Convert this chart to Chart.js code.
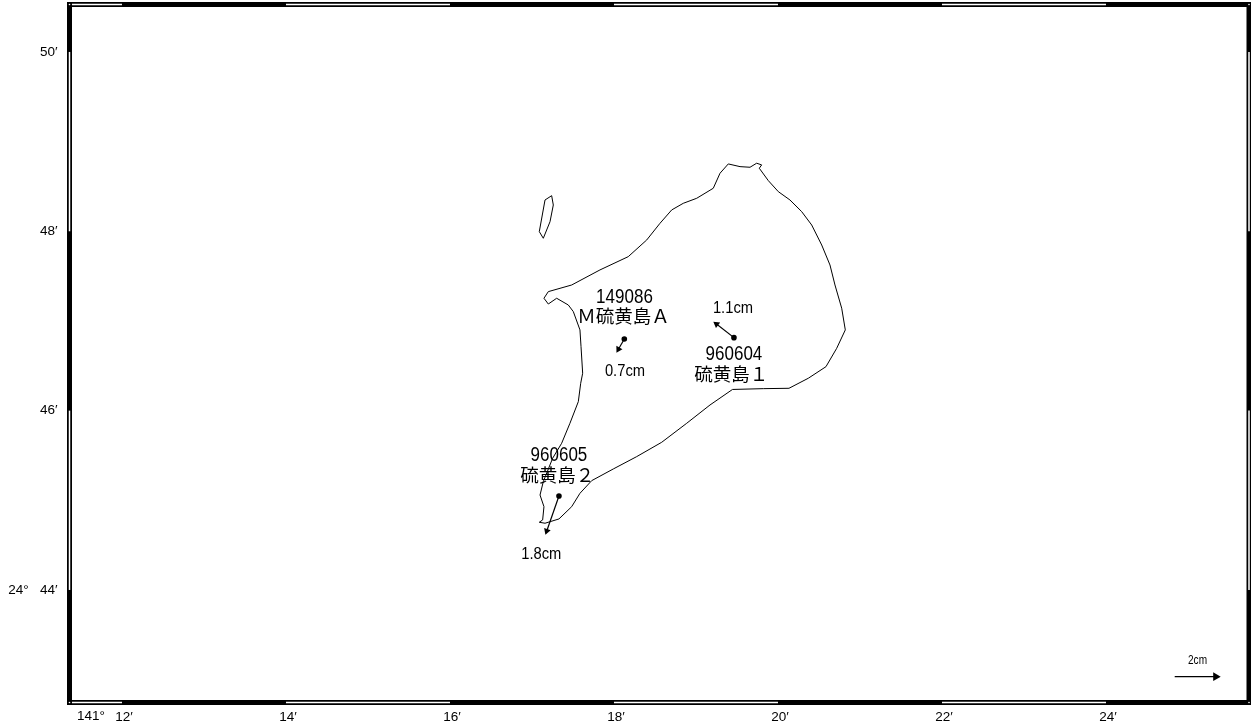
<!DOCTYPE html>
<html lang="ja">
<head>
  <meta charset="UTF-8" />
  <title>硫黄島 地殻変動</title>
  <script src="https://cdn.jsdelivr.net/npm/chart.js"></script>
  <style>
    html, body { margin: 0; padding: 0; background: #fff; overflow: hidden; }
    canvas { display: block; }
  </style>
</head>
<body>
  <canvas id="mapa" width="1251" height="728"></canvas>
  <script>
    // all positions in arc minutes: lon = 141deg + x, lat = 24deg + y
    const coastLon = [19.394,19.537,19.659,19.740,19.801,19.772,19.882,20.004,20.146,20.289,20.411,20.533,20.634,20.695,20.777,20.821,20.716,20.585,20.370,20.134,19.821,19.445,19.171,18.887,18.582,18.277,17.991,17.728,17.585,17.484,17.329,17.159,17.089,17.130,17.146,17.098,17.138,17.252,17.362,17.463,17.565,17.594,17.618,17.598,17.585,17.504,17.443,17.301,17.199,17.146,17.199,17.484,17.829,18.174,18.399,18.561,18.704,18.845,19.009,19.211,19.293,19.394];
    const coastLat = [48.751,48.721,48.714,48.759,48.740,48.703,48.565,48.442,48.349,48.219,48.070,47.847,47.624,47.401,47.142,46.900,46.695,46.490,46.361,46.249,46.245,46.236,46.063,45.859,45.647,45.487,45.349,45.219,45.078,44.929,44.792,44.744,44.755,44.781,44.929,45.059,45.208,45.469,45.636,45.859,46.100,46.305,46.417,46.713,46.900,47.104,47.178,47.253,47.189,47.253,47.327,47.401,47.569,47.717,47.903,48.089,48.238,48.312,48.368,48.480,48.647,48.751];
    const isletLon = [17.240,17.260,17.220,17.138,17.089,17.159,17.240];
    const isletLat = [48.397,48.293,48.107,47.922,47.996,48.349,48.397];

    const stationLon = [18.126,19.463,17.329];
    const stationLat = [46.799,46.814,45.048];
    const arrowLon = [18.054,19.250,17.180];
    const arrowLat = [46.684,46.965,44.658];
    const arrowTurn = [209.7,-52.3,199.1];

    const scaleLon = [24.838,25.338];
    const scaleLat = [43.033,43.033];

    const lonTicks = [12,14,16,18,20,22,24];
    const lonTickLabels = ["12′","14′","16′","18′","20′","22′","24′"];
    const latTicks = [44,46,48,50];
    const latTickLabels = ["24°   44′","46′","48′","50′"];

    const lonMin = 11.360, lonMax = 25.744;
    const latMin = 42.745, latMax = 50.529;

    // frame stretches left white, one pair per piece
    const whiteLon = [[11.39,12],[14,16],[18,20],[22,24]];
    const whiteLat = [[44,46],[48,50]];

    const nameTexts = ["149086","Ｍ硫黄島Ａ","960604","硫黄島１","960605","硫黄島２"];
    const nameLon = [18.128,18.116,19.463,19.430,17.329,17.309];
    const nameLat = [47.279,47.056,46.643,46.409,45.517,45.282];

    const valueTexts = ["0.7cm","1.1cm","1.8cm"];
    const valueLon = [18.134,19.451,17.113];
    const valueLat = [46.448,47.156,44.416];

    const LATIN = '"Liberation Sans",sans-serif';
    const CJK = '"Noto Sans CJK JP",sans-serif';

    function zip(xs, ys) {
      return xs.map((x, i) => ({ x, y: ys[i] }));
    }
    function linea(data, borderWidth, borderColor) {
      return { type: 'scatter', showLine: true, data, borderWidth, borderColor, pointRadius: 0, clip: false, tension: 0 };
    }

    // first dataset ends up on top, so the frame goes after its white parts
    const datasets = [];
    datasets.push({
      type: 'scatter',
      data: [{ x: lonMin, y: latMax }, { x: lonMax, y: latMax }, { x: lonMax, y: latMin }, { x: lonMin, y: latMin }],
      pointRadius: 0.8, pointBackgroundColor: '#fff', pointBorderWidth: 0, clip: false
    });
    whiteLon.forEach(p => {
      datasets.push(linea(zip(p, [latMax, latMax]), 1.5, '#fff'));
      datasets.push(linea(zip(p, [latMin, latMin]), 1.5, '#fff'));
    });
    whiteLat.forEach(p => {
      datasets.push(linea(zip([lonMin, lonMin], p), 1.5, '#fff'));
      datasets.push(linea(zip([lonMax, lonMax], p), 1.5, '#fff'));
    });
    datasets.push(Object.assign(linea([
      { x: lonMin, y: latMin }, { x: lonMax, y: latMin }, { x: lonMax, y: latMax },
      { x: lonMin, y: latMax }, { x: lonMin, y: latMin }
    ], 5, '#000'), { borderJoinStyle: 'miter', borderCapStyle: 'square' }));

    datasets.push(linea(zip(coastLon, coastLat), 1, '#000'));
    datasets.push(linea(zip(isletLon, isletLat), 1, '#000'));

    // displacement arrows
    stationLon.forEach((lon, i) => {
      datasets.push({
        type: 'scatter', showLine: true,
        data: [{ x: lon, y: stationLat[i] }, { x: arrowLon[i], y: arrowLat[i] }],
        borderColor: '#000', borderWidth: 1.2,
        pointStyle: ['circle', 'triangle'],
        pointRadius: [2.8, 4],
        pointRotation: [0, arrowTurn[i]],
        pointBackgroundColor: '#000', pointBorderWidth: 0
      });
    });
    datasets.push({
      type: 'scatter', showLine: true,
      data: zip(scaleLon, scaleLat),
      borderColor: '#000', borderWidth: 1.2,
      pointStyle: 'triangle',
      pointRadius: [0, 5],
      pointRotation: 90,
      pointBackgroundColor: '#000', pointBorderWidth: 0
    });

    // the reference font is narrow, squeeze the latin text sideways
    // latin sits a bit high on a middle baseline, so it also goes down a little
    function texto(ctx, t, px, py, squeeze) {
      ctx.save();
      ctx.translate(px, squeeze < 1 ? py + 1.5 : py);
      ctx.scale(squeeze, 1);
      ctx.fillText(t, 0, 0);
      ctx.restore();
    }

    const textos = {
      id: 'textos',
      afterDraw(chart) {
        const { ctx, scales: { x, y } } = chart;
        ctx.save();
        ctx.fillStyle = '#000';
        ctx.textAlign = 'center';
        ctx.textBaseline = 'middle';
        nameTexts.forEach((t, i) => {
          const latin = /^\d/.test(t);
          ctx.font = latin ? '20px ' + LATIN : '18.5px ' + CJK;
          texto(ctx, t, x.getPixelForValue(nameLon[i]), y.getPixelForValue(nameLat[i]), latin ? 0.85 : 1);
        });
        ctx.font = '16px ' + LATIN;
        valueTexts.forEach((t, i) => {
          texto(ctx, t, x.getPixelForValue(valueLon[i]), y.getPixelForValue(valueLat[i]), 0.92);
        });
        ctx.font = '12px ' + LATIN;
        texto(ctx, "2cm", x.getPixelForValue(25.116), y.getPixelForValue(43.227), 0.84);
        // degree part of the first longitude label
        ctx.textAlign = 'right';
        ctx.font = '13.5px ' + LATIN;
        ctx.fillText("141°", x.getPixelForValue(lonTicks[0]) - 17, y.bottom + 13.5);
        ctx.restore();
      }
    };

    new Chart(document.getElementById('mapa'), {
      type: 'scatter',
      data: { datasets },
      plugins: [textos],
      options: {
        responsive: false,
        animation: false,
        devicePixelRatio: 1,
        events: [],
        layout: { autoPadding: false, padding: { top: 4.5, right: 2, left: 0, bottom: 0 } },
        plugins: { legend: { display: false }, tooltip: { enabled: false } },
        scales: {
          x: {
            type: 'linear', min: lonMin, max: lonMax,
            grid: { display: false, drawTicks: false },
            border: { display: false },
            afterBuildTicks: s => { s.ticks = lonTicks.map(value => ({ value })); },
            afterFit: s => { s.height = 25.5; s.paddingLeft = 0; s.paddingRight = 0; },
            ticks: {
              autoSkip: false, maxRotation: 0, padding: 7, labelOffset: 2, color: '#000',
              font: { family: LATIN, size: 13.5 },
              callback: v => lonTickLabels[lonTicks.indexOf(v)]
            }
          },
          y: {
            type: 'linear', min: latMin, max: latMax,
            grid: { display: false, drawTicks: false },
            border: { display: false },
            afterBuildTicks: s => { s.ticks = latTicks.map(value => ({ value })); },
            afterFit: s => { s.width = 69.5; s.paddingTop = 0; s.paddingBottom = 0; },
            ticks: {
              autoSkip: false, padding: 12, color: '#000',
              font: { family: LATIN, size: 13.5 },
              callback: v => latTickLabels[latTicks.indexOf(v)]
            }
          }
        }
      }
    });
  </script>
</body>
</html>
